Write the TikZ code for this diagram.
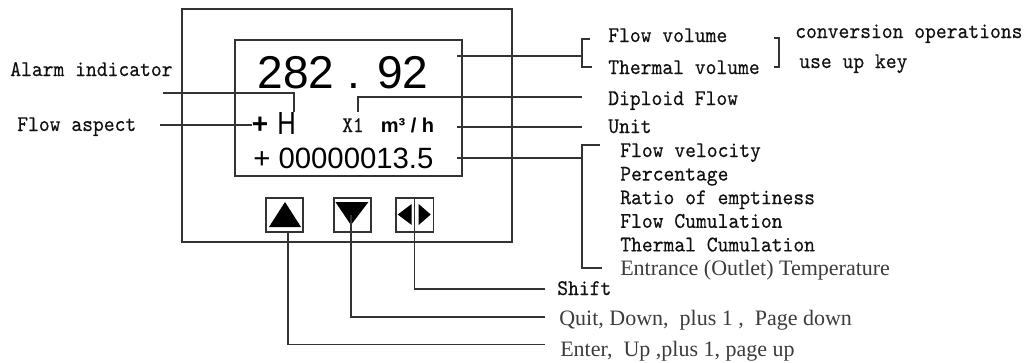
\documentclass[tikz,border=0pt]{standalone}
\usepackage{fontspec}
\setmainfont{Liberation Serif}
\setsansfont{Liberation Sans}
\setmonofont[FakeStretch=0.92,FakeBold=0.35]{lmmono10-regular.otf}
\newfontfamily\lcdnarrow[FakeStretch=0.8]{Liberation Sans}
\usetikzlibrary{positioning,calc}
\definecolor{wiregray}{HTML}{333333}
\definecolor{textdark}{HTML}{111111}
\definecolor{printgray}{HTML}{3C3C3C}
\tikzset{
  panel/.style={
    rectangle, draw=wiregray, line width=1.3pt, inner sep=0pt,
    minimum width=247.5pt, minimum height=174.75pt
  },
  lcdscreen/.style={
    rectangle, draw=wiregray, line width=1.3pt, inner sep=0pt,
    minimum width=170.25pt, minimum height=102pt
  },
  keybox/.style={
    rectangle, draw=wiregray, line width=1.2pt, inner sep=0pt,
    minimum width=28pt, minimum height=25.5pt
  },
  wire/.style={draw=wiregray, line width=1.1pt},
  lcdbig/.style={font=\sffamily\fontsize{34.5pt}{36pt}\selectfont, inner sep=0pt, anchor=base},
  lcdsmall/.style={font=\sffamily\fontsize{22pt}{24pt}\selectfont, inner sep=0pt, anchor=base west},
  monolabel/.style={font=\ttfamily\fontsize{16.8pt}{18pt}\selectfont, text=textdark, inner sep=0pt, anchor=base west},
  seriflabel/.style={font=\rmfamily\fontsize{16.5pt}{18pt}\selectfont, text=printgray, inner sep=0pt, anchor=base west}
}

\begin{document}
\begin{tikzpicture}[x=0.75pt, y=-0.75pt]
\useasboundingbox (0,0) rectangle (1032,362);
\node[panel] (meter) at (347,125.5) {};
\node[lcdscreen] (screen) at (348.5,108) {};
\node[lcdbig] (reading) at (343,88) {282 . 92};
\node[font=\sffamily\bfseries\fontsize{21pt}{22pt}\selectfont, inner sep=0pt] (sign) at (260,125) {+};
\node[font=\lcdnarrow\fontsize{24pt}{24pt}\selectfont, inner sep=0pt] (hchar) at (286.5,123.5) {H};
\node[monolabel, anchor=base] (xone) at (353,132) {X1};
\node[font=\sffamily\bfseries\fontsize{15pt}{16pt}\selectfont, inner sep=0pt, anchor=base] (munit) at (407.5,132) {m³ / h};
\node[lcdsmall] (total) at (253,168) {+ 00000013.5};
\node[keybox] (keyup) at (284.5,215) {};
\node[keybox, right=21.75pt of keyup] (keydown) {};
\node[keybox, right=17.5pt of keydown] (keyshift) {};
\fill[black, shift={(keyup.center)}] (-15.5,12) -- (16.5,12) -- (0.5,-13) -- cycle;
\fill[black, shift={(keydown.center)}] (-17,-13) -- (16,-13) -- (-1.5,10) -- cycle;
\fill[black, shift={(keyshift.center)}] (-3,-11) -- (-3,10) -- (-17,-0.5) -- cycle;
\fill[black, shift={(keyshift.center)}] (4,-11) -- (4,10) -- (16,-0.5) -- cycle;

\node[monolabel] (alarm) at (10,76) {Alarm indicator};
\node[monolabel] (aspect) at (17,131) {Flow aspect};
\node[monolabel] (flowvol) at (608,42) {Flow volume};
\node[monolabel] (thermvol) at (608,74) {Thermal volume};
\node[monolabel] (convop) at (795,38) {conversion operations};
\node[monolabel] (upkey) at (799,68) {use up key};
\node[monolabel] (diploid) at (608,105) {Diploid Flow};
\node[monolabel] (unit) at (608,133) {Unit};
\foreach \txt [count=\i from 0] in {Flow velocity, Percentage, Ratio of emptiness, Flow Cumulation, Thermal Cumulation}
  \node[monolabel] (mode\i) at (620,{157+23.6*\i}) {\txt};
\node[seriflabel] (temp) at (620,275) {Entrance (Outlet) Temperature};
\node[monolabel] (shift) at (557,295) {Shift};
\node[seriflabel] (quit) at (559,325) {Quit, Down,~ plus 1 ,~ Page down};
\node[seriflabel] (enter) at (560,356) {Enter,~ Up ,plus 1, page up};

\coordinate (alarmtip) at (163,93);
\coordinate (aspecttip) at (160,125);
\coordinate (readtap) at (457,56);
\coordinate (volfork) at (582,56);
\coordinate (diploidend) at (582,97);
\coordinate (unittap) at (457,127);
\coordinate (unitend) at (582,127);
\coordinate (totaltap) at (457,158);
\coordinate (modefork) at (582,158);
\coordinate (shifttip) at (545,289);
\coordinate (downtip) at (545,317);
\coordinate (uptip) at (545,344.5);

\draw[wire] (alarmtip) -| ($(hchar.north east)+(-2,0)$);
\draw[wire] (aspecttip) -- (sign.west);
\draw[wire] (readtap) -- (volfork);
\draw[wire] ($(xone.north)+(5,-6)$) |- (diploidend);
\draw[wire] (unittap) -- (unitend);
\draw[wire] (totaltap) -- (modefork);
\draw[wire] (590,39) -| (582,67) -- (592,67);
\draw[wire] (774,38) -| (779,67) -- (774,67);
\draw[wire] (600,145) -| (582,268) -- (602,268);
\draw[wire] (keyshift.north) |- (shifttip);
\draw[wire] ($(keydown.center)+(-1.5,0)$) |- (downtip);
\draw[wire] ($(keyup.south)+(3.5,0)$) |- (uptip);
\end{tikzpicture}
\end{document}
